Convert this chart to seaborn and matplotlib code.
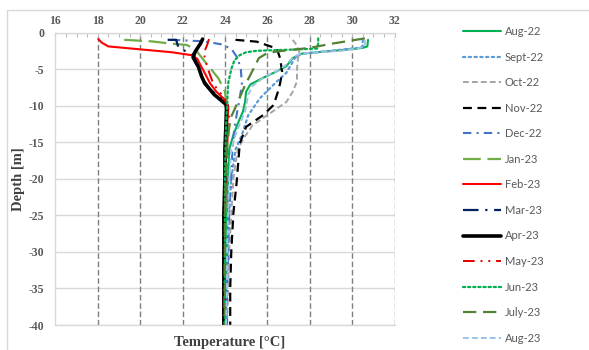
import matplotlib
matplotlib.use("Agg")
import matplotlib.pyplot as plt
import matplotlib.patches as mpatches
from matplotlib.ticker import MultipleLocator
import seaborn as sns
import pandas as pd

# ---------------- data (temperature °C, depth m) ----------------
months = ["Aug-22", "Sept-22", "Oct-22", "Nov-22", "Dec-22", "Jan-23", "Feb-23",
          "Mar-23", "Apr-23", "May-23", "Jun-23", "July-23", "Aug-23"]

aug22_temp = [30.75, 30.72, 30.5, 29.5, 27.6, 27.2, 26.9, 26.45, 25.8, 25.2, 25.0, 24.95, 24.85, 24.6, 24.4, 24.2, 24.15, 24.1, 24.1, 24.05, 24.05]
aug22_depth = [-1.0, -1.9, -2.1, -2.4, -2.9, -3.5, -4.6, -5.3, -6.2, -7.1, -8.1, -9.5, -10.8, -12.5, -14.0, -16, -20, -25, -30, -35, -40]

sep22_temp = [30.5, 30.5, 30.3, 29.0, 27.6, 27.3, 27.1, 26.9, 26.45, 25.65, 25.1, 24.8, 24.5, 24.3, 24.2, 24.15, 24.1, 24.1]
sep22_depth = [-1.0, -1.9, -2.1, -2.5, -2.9, -3.5, -4.5, -5.5, -6.7, -9.0, -11.3, -14.0, -16, -20, -25, -30, -35, -40]

oct22_temp = [27.2, 27.4, 27.5, 27.45, 27.4, 27.4, 27.2, 26.9, 26.1, 25.3, 24.9, 24.6, 24.4, 24.3, 24.2, 24.15, 24.1]
oct22_depth = [-1.0, -1.8, -2.6, -3.5, -5.0, -6.7, -8.1, -9.5, -11.1, -12.7, -14.4, -16, -20, -25, -30, -35, -40]

nov22_temp = [24.5, 25.5, 26.45, 26.6, 26.7, 26.6, 26.5, 26.3, 25.8, 25.0, 24.7, 24.55, 24.4, 24.3, 24.25, 24.25]
nov22_depth = [-1.0, -1.25, -2.2, -3.5, -5.4, -7.0, -8.1, -9.9, -11.3, -12.9, -15.2, -20.6, -24.7, -30, -35, -40]

dec22_temp = [21.5, 23.0, 23.8, 24.3, 24.6, 24.75, 24.8, 24.7, 24.6, 24.45, 24.35, 24.3, 24.2, 24.15, 24.1, 24.1]
dec22_depth = [-1.0, -1.2, -1.6, -2.2, -3.5, -5.0, -7.0, -9.0, -10.5, -13, -16, -20, -24, -30, -35, -40]

jan23_temp = [19.25, 20.5, 21.4, 22.2, 22.6, 23.06, 23.4, 23.7, 24.0, 24.1, 24.1, 24.05, 24.0, 24.0, 24.0, 24.0, 24.0]
jan23_depth = [-1.0, -1.2, -1.5, -1.7, -2.3, -4.0, -5.2, -6.3, -8.1, -10, -12, -16, -20, -25, -30, -35, -40]

feb23_temp = [18.03, 18.2, 18.5, 20.0, 21.5, 22.43, 22.7, 22.8, 23.06, 23.3, 23.6, 24.0, 24.16, 24.1, 24.05, 24.0, 24.0, 23.95, 23.95, 23.95]
feb23_depth = [-0.9, -1.4, -1.9, -2.3, -2.7, -3.1, -3.6, -4.2, -5.6, -6.95, -8.1, -9.2, -10.1, -13, -16, -20, -25, -30, -35, -40]

mar23_temp = [21.3, 21.7, 21.8, 22.1, 22.45, 22.55, 22.7, 22.8, 23.0, 23.3, 23.7, 24.0, 24.1, 24.05, 24.0, 23.95, 23.95, 23.95, 23.95]
mar23_depth = [-1.0, -1.0, -2.0, -2.5, -2.9, -3.3, -4.4, -5.0, -6.5, -7.8, -8.7, -9.6, -11, -14, -20, -25, -30, -35, -40]

apr23_temp = [22.95, 22.85, 22.6, 22.5, 22.65, 22.75, 22.9, 23.05, 23.5, 24.08, 24.05, 24.0, 24.0, 23.95, 23.95, 23.95, 23.95]
apr23_depth = [-0.9, -1.5, -2.6, -3.4, -4.2, -4.7, -6.0, -6.95, -8.5, -9.9, -12.6, -16, -20, -25, -30, -35, -40]

may23_temp = [23.25, 23.15, 23.0, 23.1, 23.2, 23.45, 23.85, 24.1, 24.2, 24.15, 24.1, 24.05, 24.0, 24.0, 23.95, 23.95]
may23_depth = [-0.9, -1.8, -2.8, -4.0, -5.0, -7.0, -8.5, -9.8, -11, -13, -16, -20, -25, -30, -35, -40]

jun23_temp = [28.4, 28.4, 28.35, 27.0, 25.5, 25.0, 24.7, 24.45, 24.3, 24.15, 24.1, 24.05, 24.0, 24.0, 24.0, 24.0, 24.0]
jun23_depth = [-0.8, -1.5, -2.2, -2.35, -2.5, -2.7, -3.1, -3.8, -5.0, -7.0, -10.3, -13, -20, -25, -30, -35, -40]

jul23_temp = [30.6, 29.1, 28.0, 26.45, 26.0, 25.6, 25.2, 24.95, 24.55, 24.3, 24.2, 24.1, 24.05, 24.0, 24.0, 24.0, 24.0]
jul23_depth = [-0.8, -1.5, -2.1, -2.6, -2.8, -3.5, -5.8, -7.2, -9.9, -11.5, -13, -16, -20, -25, -30, -35, -40]

aug23_temp = [30.6, 30.6, 30.4, 29.5, 27.6, 27.2, 26.9, 26.5, 25.9, 25.3, 25.1, 24.95, 24.7, 24.5, 24.3, 24.2, 24.15, 24.1, 24.1, 24.05]
aug23_depth = [-1.0, -1.9, -2.1, -2.5, -2.85, -3.4, -4.4, -5.2, -6.0, -7.3, -8.5, -10.8, -12.5, -14, -16, -20, -25, -30, -35, -40]

temps = [aug22_temp, sep22_temp, oct22_temp, nov22_temp, dec22_temp, jan23_temp, feb23_temp,
         mar23_temp, apr23_temp, may23_temp, jun23_temp, jul23_temp, aug23_temp]
depths = [aug22_depth, sep22_depth, oct22_depth, nov22_depth, dec22_depth, jan23_depth, feb23_depth,
          mar23_depth, apr23_depth, may23_depth, jun23_depth, jul23_depth, aug23_depth]

x_ticks = [16, 18, 20, 22, 24, 26, 28, 30, 32]
y_ticks = [0, -5, -10, -15, -20, -25, -30, -35, -40]
y_tick_labels = ["0", "-5", "-10", "-15", "-20", "-25", "-30", "-35", "-40"]

# ---------------- styles ----------------
colors = ["#00B050", "#5B9BD5", "#A5A5A5", "#000000", "#4472C4", "#70AD47", "#FF0000",
          "#002060", "#000000", "#E00000", "#00B050", "#548235", "#9DC3E6"]
styles = ["-", (0, (1, 1.6)), (0, (3, 1.6)), (0, (4, 2.5)), (0, (4, 2.5, 1, 2.5)),
          (0, (8, 3)), "-", (0, (7, 3, 1, 3)), "-", (0, (6, 3, 1, 3, 1, 3)),
          (0, (1, 1.3)), (0, (6, 3)), (0, (3, 1.6))]
widths = [1.5, 1.6, 1.4, 1.6, 1.5, 1.6, 1.5, 1.6, 2.6, 1.4, 1.6, 1.6, 1.4]

sns.set_theme(style="white")
plt.rcParams["axes.unicode_minus"] = False

fig = plt.figure(figsize=(5.89, 3.5), dpi=100)
ax = fig.add_axes([0.0939, 0.0714, 0.5759, 0.8357])

# outer chart frame
fig.patches.append(mpatches.Rectangle((7 / 589, -0.05), 1.1, 1 - 10 / 350 + 0.05,
                                      transform=fig.transFigure, fill=False,
                                      edgecolor="#D9D9D9", linewidth=1.0, zorder=0))

ax.set_xlim(16, 32)
ax.set_ylim(-40, 0)

# grid lines
for yv in y_ticks:
    ax.axhline(yv, color="#D9D9D9", linewidth=1.0, zorder=0)
for xv in x_ticks[1:]:
    ax.axvline(xv, color="#7F7F7F", linewidth=1.0, linestyle=(0, (4, 2)), zorder=0)

handles = []
for m, t, d, c, ls, lw in zip(months, temps, depths, colors, styles, widths):
    df = pd.DataFrame({"temp": t, "depth": d})
    sns.lineplot(data=df, x="temp", y="depth", sort=False, estimator=None,
                 color=c, linewidth=lw, ax=ax, label=m)
    line = ax.get_lines()[-1]
    line.set_linestyle(ls)
    if ls == (0, (1, 1.6)) or ls == (0, (1, 1.3)):
        line.set_dash_capstyle("round")
    handles.append(line)

# spines
for side in ["left", "top", "bottom"]:
    ax.spines[side].set_color("#D9D9D9")
    ax.spines[side].set_linewidth(1.0)
ax.spines["right"].set_visible(False)

# ticks
ax.xaxis.tick_top()
ax.set_xticks(x_ticks)
ax.xaxis.set_minor_locator(MultipleLocator(0.5))
ax.tick_params(axis="x", which="both", direction="in", top=True, bottom=False,
               length=3, color="#BFBFBF", width=0.8, pad=4)
ax.set_yticks(y_ticks)
ax.set_yticklabels(y_tick_labels)
ax.tick_params(axis="y", which="both", length=0, pad=8)

tick_font = dict(family="Liberation Serif", weight="bold", size=8.5, color="#595959")
for lab in ax.get_xticklabels() + ax.get_yticklabels():
    lab.set_fontfamily(tick_font["family"])
    lab.set_fontweight(tick_font["weight"])
    lab.set_fontsize(tick_font["size"])
    lab.set_color(tick_font["color"])

ax.set_ylabel("Depth [m]", family="Liberation Serif", weight="bold", size=10.5, color="#404040")
ax.yaxis.set_label_coords(-0.088, 0.5)
ax.set_xlabel("Temperature [°C]", family="Liberation Serif", weight="bold", size=10.5, color="#404040")
ax.xaxis.set_label_position("bottom")
ax.xaxis.set_label_coords(0.515, -0.038)

leg = ax.legend(handles=handles, labels=months, loc="upper left",
                bbox_to_anchor=(463 / 589, 1 - 26 / 350), bbox_transform=fig.transFigure,
                frameon=False, handlelength=3.4, handletextpad=0.35, labelspacing=1.31,
                borderpad=0, borderaxespad=0,
                prop=dict(family="Lato", size=8))
for txt in leg.get_texts():
    txt.set_color("#595959")

fig.savefig("out.png", dpi=100)
